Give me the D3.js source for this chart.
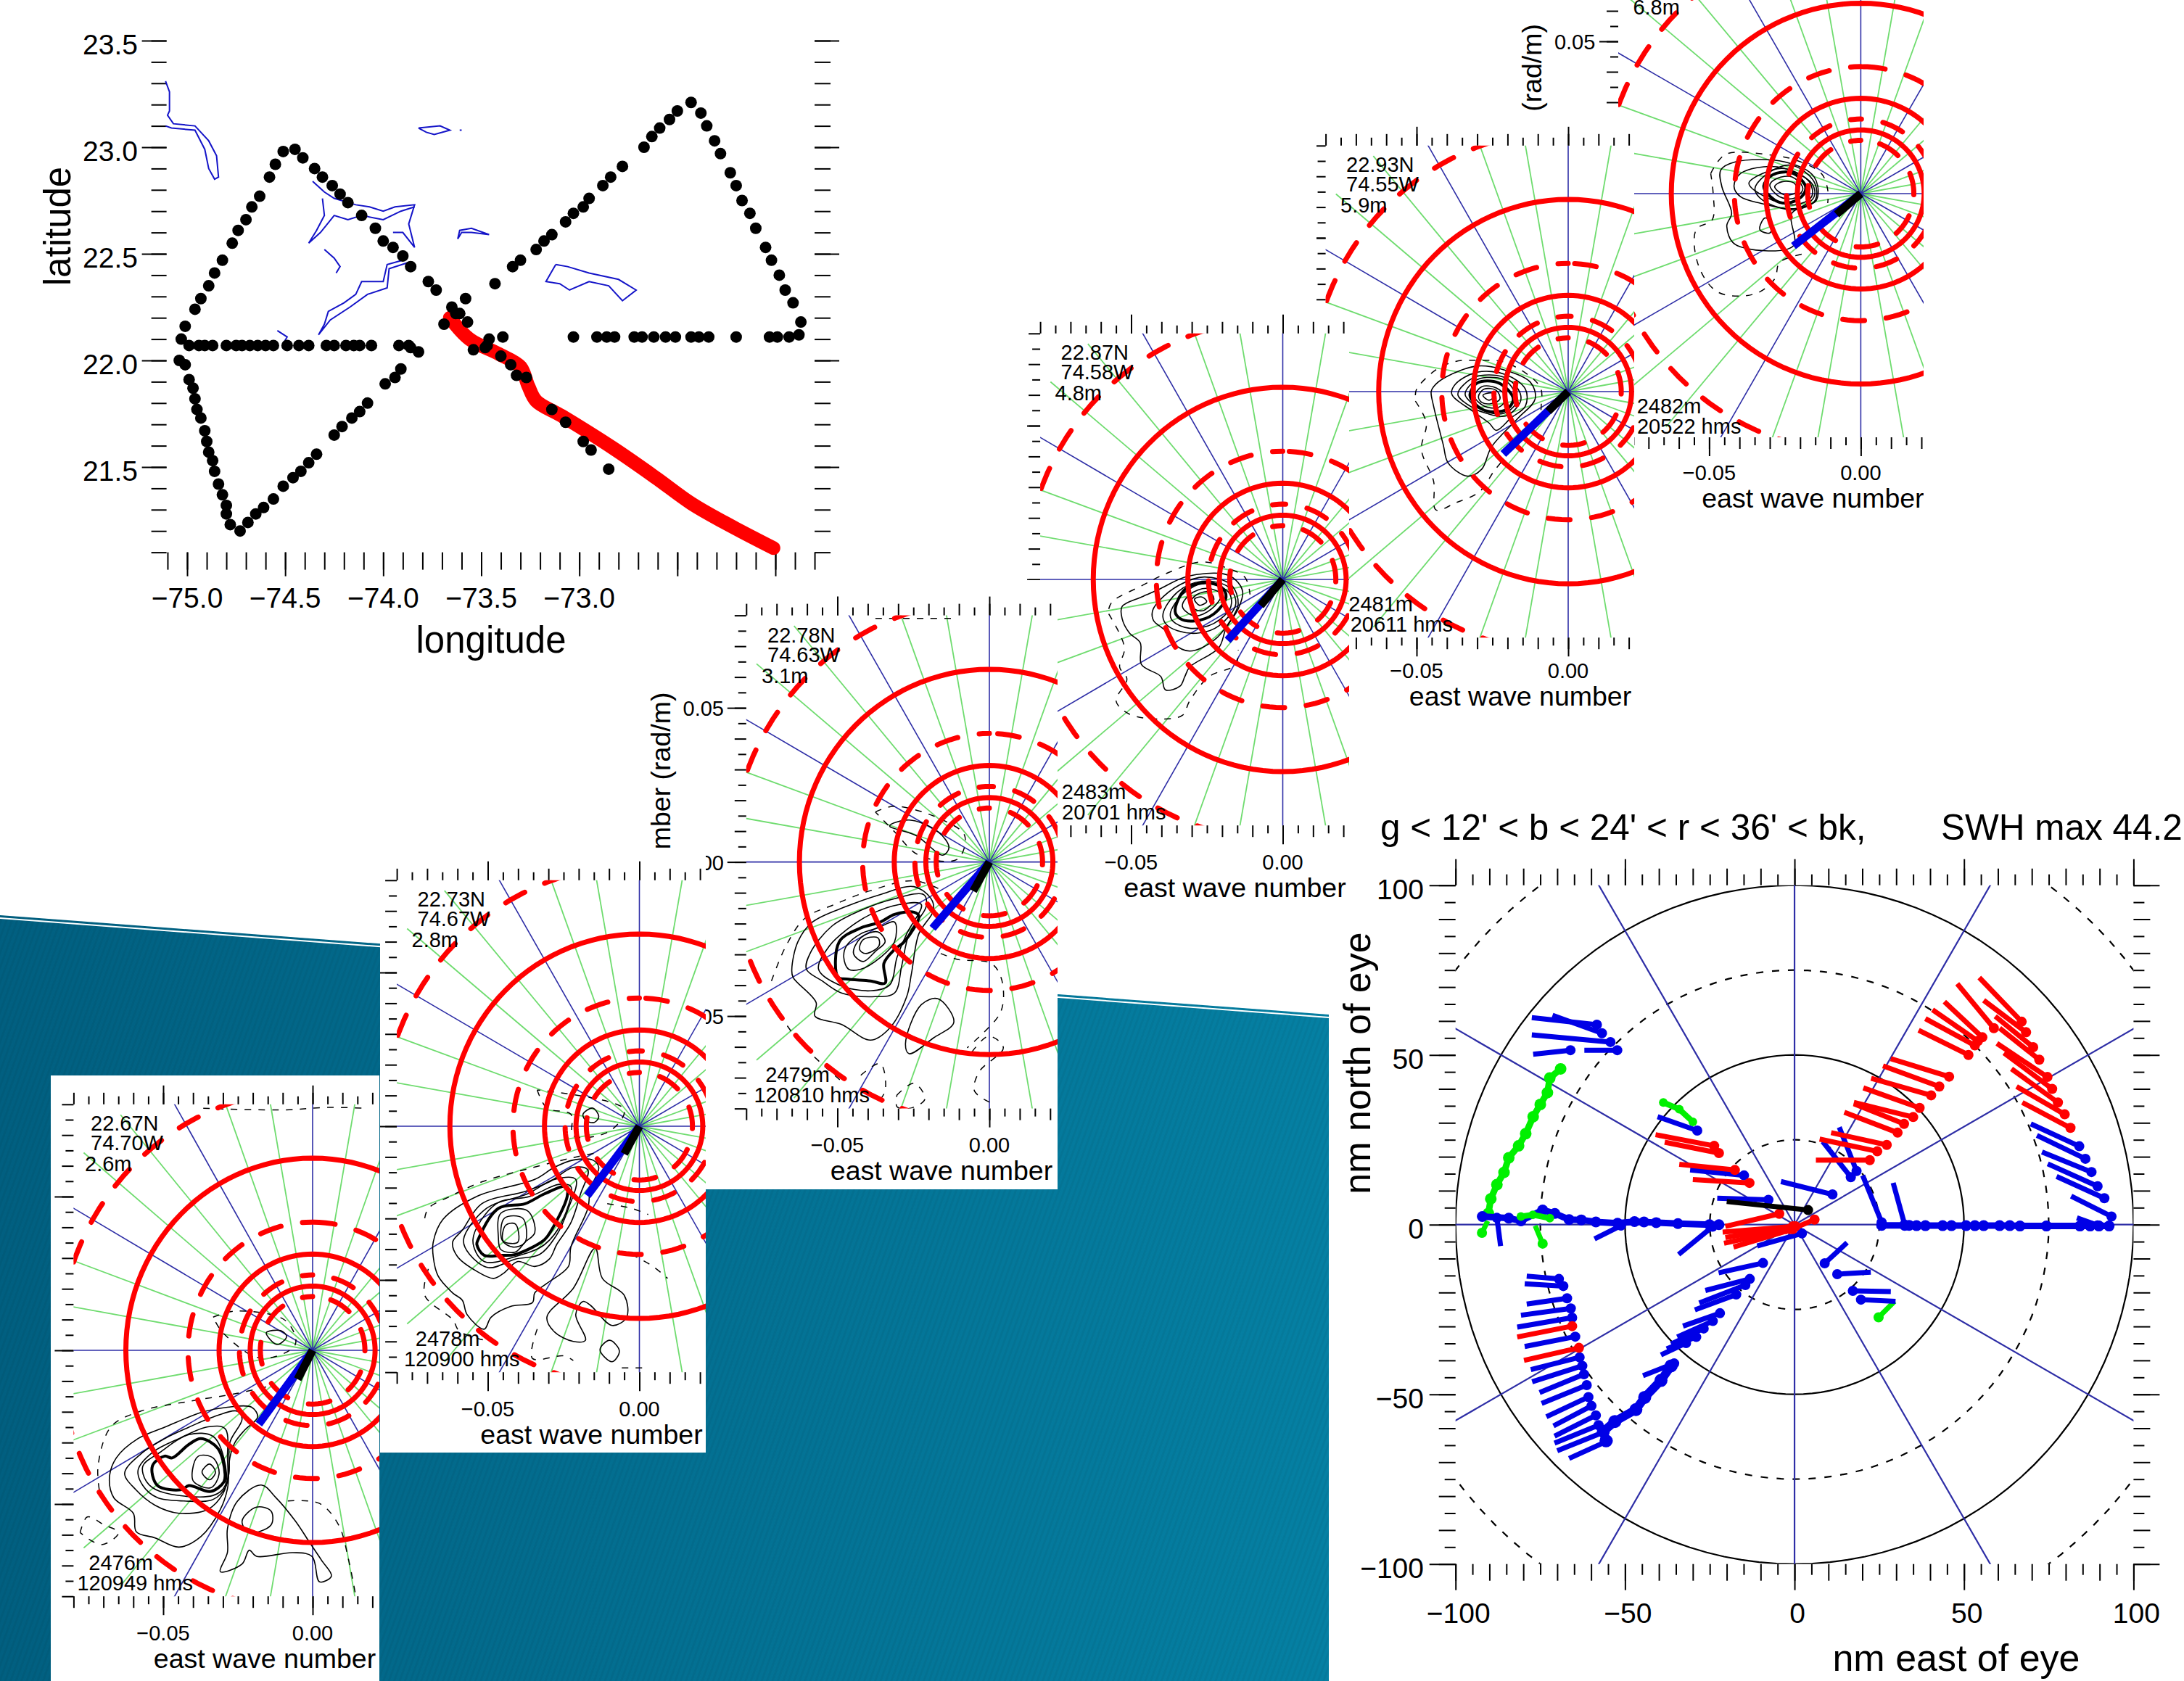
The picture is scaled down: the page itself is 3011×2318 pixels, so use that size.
<!DOCTYPE html>
<html>
<head>
<meta charset="utf-8">
<script src="https://d3js.org/d3.v7.min.js"></script>
<style>
  html, body { margin: 0; padding: 0; background: #fff; overflow: hidden; }
  text { font-family: "Liberation Sans", Arial, sans-serif; fill: #000; }
</style>
</head>
<body>
<div id="chart"></div>
<script>
// Flight track, degrees
const trackLon = [-75.01,-74.96,-74.93,-74.89,-74.86,-74.82,-74.77,-74.74,-74.70,-74.67,-74.63,-74.58,-74.55,-74.51,-74.45,-74.41,-74.35,-74.31,-74.26,-74.22,-74.18,-74.11,-74.04,-74.00,-73.95,-73.90,-73.86,-73.77,-73.73,-73.65,-73.63,-73.61,
  -74.99,-74.94,-74.91,-74.87,-74.80,-74.75,-74.72,-74.68,-74.64,-74.60,-74.56,-74.49,-74.43,-74.38,-74.29,-74.25,-74.19,-74.15,-74.12,-74.06,-73.92,-73.87,-73.86,-73.82,
  -75.03,-75.04,-75.01,-74.99,-74.97,-74.96,-74.95,-74.93,-74.91,-74.90,-74.89,-74.87,-74.86,-74.84,-74.82,-74.80,-74.80,-74.78,-74.73,-74.69,-74.65,-74.61,-74.56,-74.51,-74.46,-74.42,-74.38,-74.34,-74.25,-74.21,-74.16,-74.12,-74.08,-73.99,-73.94,-73.91,
  -73.43,-73.34,-73.30,-73.22,-73.18,-73.14,-73.07,-73.03,-72.98,-72.95,-72.88,-72.84,-72.78,-72.67,-72.63,-72.59,-72.54,-72.50,-72.43,-72.38,-72.35,-72.31,-72.28,-72.23,-72.20,-72.17,-72.13,-72.10,-72.05,-72.02,-71.98,-71.95,-71.91,-71.87,-71.88,
  -73.03,-72.91,-72.86,-72.82,-72.72,-72.68,-72.62,-72.56,-72.51,-72.43,-72.39,-72.34,-72.20,-72.03,-71.99,-71.93,
  -73.58,-73.69,-73.57,-73.54,-73.48,-73.46,-73.47,-73.39,-73.40,-73.35,-73.32,-73.27,-73.14,-73.07,-72.98,-72.94,-72.85];
const trackLat = [22.16,22.24,22.29,22.35,22.41,22.47,22.55,22.61,22.66,22.72,22.77,22.86,22.92,22.98,22.99,22.95,22.90,22.86,22.82,22.78,22.74,22.68,22.62,22.56,22.53,22.49,22.44,22.37,22.33,22.25,22.22,22.22,
  22.07,22.07,22.07,22.07,22.07,22.07,22.07,22.07,22.07,22.07,22.07,22.07,22.07,22.07,22.07,22.07,22.07,22.07,22.07,22.07,22.07,22.07,22.06,22.04,
  22.10,22.00,21.98,21.91,21.87,21.82,21.77,21.73,21.67,21.62,21.57,21.53,21.48,21.42,21.37,21.32,21.28,21.23,21.20,21.24,21.28,21.31,21.35,21.41,21.45,21.48,21.52,21.56,21.65,21.69,21.73,21.76,21.80,21.89,21.92,21.96,
  22.36,22.44,22.47,22.52,22.56,22.59,22.65,22.69,22.72,22.76,22.82,22.86,22.91,23.00,23.05,23.09,23.13,23.17,23.21,23.16,23.10,23.03,22.97,22.88,22.82,22.75,22.69,22.62,22.53,22.47,22.40,22.33,22.27,22.18,22.12,
  22.11,22.11,22.11,22.11,22.11,22.11,22.11,22.11,22.11,22.11,22.11,22.11,22.11,22.11,22.11,22.11,
  22.29,22.17,22.18,22.05,22.06,22.10,22.07,22.11,22.02,21.98,21.93,21.92,21.77,21.71,21.62,21.58,21.49];

// Storm track
const stormLon = [-73.66,-73.56,-73.41,-73.30,-73.26,-73.22,-73.09,-72.83,-72.61,-72.43,-72.26,-72.01];
const stormLat = [22.20,22.10,22.03,21.97,21.88,21.81,21.74,21.59,21.45,21.33,21.24,21.12];

// Coastlines [lon, lat]
const coastlines = [
  [[-75.11,23.31],[-75.09,23.26],[-75.09,23.17],[-75.10,23.15],[-75.07,23.11],[-74.96,23.10],[-74.89,23.03],[-74.85,22.96],[-74.84,22.86],[-74.86,22.85],[-74.89,22.90],[-74.91,22.99],[-74.96,23.08],[-75.08,23.09],[-75.11,23.10]],
  [[-73.82,23.09],[-73.71,23.10],[-73.66,23.08],[-73.74,23.06],[-73.78,23.07],[-73.82,23.09]],
  [[-73.61,23.08],[-73.60,23.08]],
  [[-74.36,22.84],[-74.30,22.79],[-74.25,22.76],[-74.14,22.73],[-74.07,22.72],[-74.00,22.70],[-73.94,22.72],[-73.84,22.73],[-73.87,22.64],[-73.84,22.53],[-73.90,22.60],[-73.95,22.60]],
  [[-73.90,22.47],[-73.98,22.45],[-74.00,22.37],[-74.11,22.37],[-74.14,22.31],[-74.20,22.27],[-74.28,22.23],[-74.30,22.17],[-74.33,22.12],[-74.27,22.19],[-74.17,22.25],[-74.08,22.31],[-73.98,22.34],[-73.97,22.43],[-73.87,22.46]],
  [[-74.31,22.76],[-74.30,22.68],[-74.34,22.61],[-74.38,22.55],[-74.32,22.60],[-74.25,22.68],[-74.18,22.66],[-74.11,22.68],[-74.00,22.66],[-73.91,22.70],[-73.84,22.72]],
  [[-73.62,22.57],[-73.61,22.61],[-73.55,22.62],[-73.46,22.59],[-73.55,22.60],[-73.60,22.60],[-73.62,22.57]],
  [[-73.12,22.45],[-73.06,22.44],[-72.95,22.41],[-72.80,22.38],[-72.71,22.33],[-72.78,22.28],[-72.85,22.35],[-72.95,22.37],[-73.05,22.33],[-73.10,22.36],[-73.17,22.37],[-73.12,22.45]],
  [[-74.30,22.52],[-74.25,22.48],[-74.22,22.44],[-74.24,22.41]],
  [[-74.54,22.14],[-74.49,22.11],[-74.51,22.08]]
];

// Spectrum panels, bottom left to top right (east / north wave number x 1000)
const panelLat = ["22.67N","22.73N","22.78N","22.87N","22.93N",null];
const panelLon = ["74.70W","74.67W","74.63W","74.58W","74.55W",null];
const panelSwh = ["2.6m","2.8m","3.1m","4.8m","5.9m","6.8m"];
const panelAlt = ["2476m","2478m","2479m","2483m","2481m","2482m"];
const panelTime = ["120949 hms","120900 hms","120810 hms","20701 hms","20611 hms","20522 hms"];
const windEast = [-18,-17.2,-18.7,-18.2,-21.4,-22.2];
const windNorth = [-24,-22.6,-21.5,-19.8,-20.3,-17.2];
const peakEast = [-5,-5,-5.3,-7.3,-6.6,-8];
const peakNorth = [-9.4,-9,-9.4,-8.5,-6.4,-6.8];
const solidRings = [62.5,31.3,20.9];
const dashedRings = [85,41.7,24.5,17.5];
const spokeAngles = d3.range(0,360,10);

const contoursThin = [
  [ // 22.67N
    [[-68,-65.7,-58.4,-49.5,-36.6,-28.5,-20.4,-18.4,-22.8,-26,-27.7,-28.5,-31,-37.4,-44.7,-52.7,-59,-60,-66.5],[-41.5,-35,-28.7,-25,-20,-18.5,-18.5,-21.7,-26,-30,-35,-45,-52,-60.6,-64,-61,-59,-53,-48]],
    [[-62.9,-57.6,-49.5,-41.4,-33.3,-25.2,-23.6,-27.7,-28,-30,-35,-44.7,-52.7,-59.2],[-40,-33.8,-28.7,-25,-21.7,-19.8,-22.3,-30,-40,-46.6,-51.7,-53,-50.4,-45.3]],
    [[-58.4,-53.6,-44.7,-35,-29.3,-28.5,-28.9,-33.3,-43,-52,-56.8],[-38.9,-33.2,-28.7,-24.9,-25.5,-35,-44,-48.5,-49,-47.9,-44]],
    [[-56.8,-51.1,-41.4,-33.3,-29.7,-29.3,-33.3,-51.1,-55.6],[-37.6,-33.2,-27.4,-28,-35,-44,-47.2,-45.9,-42.7]],
    [[-40.2,-38.2,-33.3,-31.3,-34.1,-39.8],[-38.9,-34.4,-35,-40.2,-44.7,-42.7]],
    [[-37,-34.5,-32.5,-34.5],[-39.6,-37,-39.6,-42.1]],
    [[-28.5,-25.2,-17.2,-12.3,-5.8,-1,3,6.3,2.3,-0.2,-6.6,-18.8,-21.2,-23.6,-30.9,-28.5],[-58,-49.1,-43.8,-47.9,-55.5,-62.5,-68.3,-73.4,-75.3,-67,-65.8,-67,-65,-69.5,-72,-65.7]],
    [[-23.6,-18.8,-13.9,-13.9,-21.2],[-55.5,-51,-52.3,-56.8,-59.3]],
    [[-15.5,-10.7,-8.7,-11.9],[5.7,6.4,4.5,1.9]]
  ],
  [ // 22.73N
    [[-68,-64.8,-53.6,-34.5,-28.1,-21.8,-15.4,-13.4,-16.2,-17,-22.6,-23.4,-30.5,-34.5,-35.3,-42.5,-48.9,-51.2,-56.8,-58.4,-61.6,-66.4,-68],[-37.7,-30.3,-22.8,-17.3,-13.4,-11,-11,-13.4,-20.4,-26.7,-39.3,-45.6,-51.1,-54.2,-57.4,-58.6,-62.1,-66,-61.3,-56.6,-54.2,-48.7,-42.4]],
    [[-61.6,-58.4,-52,-37.7,-29.7,-21.8,-17,-19.4,-22.6,-27.3,-29.7,-34.5,-40.1,-44.9,-48.1,-53.6,-60],[-37.7,-33.8,-25.2,-21.2,-18.1,-13.4,-14.2,-22,-31.4,-38.5,-43.2,-45.6,-44,-47.9,-49.5,-47.2,-42.4]],
    [[-58,-50.4,-36.9,-28.1,-21,-23.4,-27.3,-32.9,-40.9,-49.7,-56],[-36.9,-26.7,-22,-17.3,-17.3,-26.7,-35.4,-41.7,-43.2,-46,-41.7]],
    [[-54.9,-47.2,-36.1,-26.5,-22.6,-25.7,-31.3,-40.9,-51.2],[-36.9,-25.2,-22.8,-18.9,-19.6,-31.4,-38.5,-42.4,-44]],
    [[-46.5,-45.7,-36.9,-34.5,-37.7,-40.9,-45.7],[-36.2,-28.3,-27.5,-34.6,-37.7,-40.9,-40.1]],
    [[-45.3,-44.5,-38.5,-37.7,-41.7],[-37,-29.9,-29.9,-37.7,-39.3]],
    [[-44.1,-40.9,-40.1,-44.9],[-32.2,-31.8,-37.7,-37.3]],
    [[-30.5,-21.8,-14.6,-12.2,-5,-4.2,-9,-16.2,-18.6,-21,-17.8,-21.8,-28.1],[-62.1,-52.7,-39.7,-49.5,-55,-62.1,-64.8,-58.2,-57,-61.3,-69.6,-70,-66.8]],
    [[-13,-9.8,-6.6,-9],[-72.7,-69.6,-73.1,-76.6]],
    [[-18.6,-15.4,-13.4,-15,-17.8],[3.9,5.9,3.1,1.2,2]]
  ],
  [ // 22.78N
    [[-65,-63,-58.2,-47,-36,-24.8,-19.2,-18.4,-23.2,-25.6,-27.2,-32.8,-39.1,-48.7,-57.4,-57,-64.6],[-34.8,-25.9,-19.5,-14.4,-10.6,-8,-11.9,-15.7,-23.3,-36,-43.7,-53.9,-57.8,-52.7,-50,-45.6,-37.4]],
    [[-60.2,-59,-51.8,-42.3,-31.2,-21.6,-20.8,-26.4,-28.8,-31.2,-37.5,-48.7,-55],[-34.8,-29.7,-20.8,-15.7,-11.9,-10.6,-14.4,-23.3,-33.5,-42.5,-43.7,-42.5,-38.6]],
    [[-56.2,-52.6,-47,-39.1,-29.6,-22.4,-27.2,-30.4,-32.8,-39.1,-49.4],[-34.8,-27.2,-22,-17,-13.8,-13.8,-23.3,-31,-39.9,-41.8,-39.9]],
    [[-47.9,-47,-42.3,-36.7,-31.2,-31.2,-35.9,-42.3,-46.3],[-31,-27.2,-23.3,-21.4,-19.5,-25.9,-31,-34.8,-34.8]],
    [[-44.7,-42.3,-36.7,-34.3,-37.5,-41.5],[-29.7,-24.6,-22.7,-25.9,-29,-32.3]],
    [[-42.7,-41.5,-36.7,-36.3,-40.7],[-28.4,-25.2,-24.6,-27.2,-29.7]],
    [[-27.6,-22.4,-16.9,-11.7,-18.4,-26.4],[-59,-46.3,-44.4,-52,-57.1,-62.2]],
    [[-32.8,-26.4,-16.9,-13.3,-15.3,-24],[11.7,13.6,9.8,4.7,2.2,8.5]]
  ],
  [ // 22.87N
    [[-53,-46.6,-41,-31.5,-19.5,-15.5,-13.2,-14.7,-18.7,-21.1,-30.7,-32.3,-33.9,-38.7,-40.2,-46.6,-47,-50.6,-53],[-8.8,-5.7,-3.3,1,1.8,-0.2,-4.1,-9.6,-15.9,-22.2,-28.5,-31.6,-34.7,-35.9,-31.6,-27.7,-20.6,-17.4,-12.7]],
    [[-43,-41,-33.9,-25.9,-17.1,-14.7,-17.9,-22.7,-30.7,-36.3,-38.7,-42.6],[-10.4,-7.2,-1.7,0.8,-1.7,-8,-14.3,-19.8,-23.3,-20.6,-16.7,-13.4]],
    [[-39.5,-34.7,-26.7,-17.9,-15.5,-21.1,-27.5,-34.7,-38.7],[-11.2,-4.1,-0.6,-2.5,-8,-15.1,-17.4,-16.7,-14.3]],
    [[-37.1,-33.1,-25.9,-17.9,-17.1,-22.7,-30.7,-36.3],[-11.2,-4.9,-1.3,-4.1,-8.8,-14.3,-15.9,-13.5]],
    [[-33.1,-30.7,-25.1,-20.3,-23.5,-29.1],[-8.8,-4.9,-2.9,-4.9,-9.6,-11.9]],
    [[-30.7,-28.3,-24.3,-22.7,-25.9,-28.3],[-8,-4.9,-4.1,-6.4,-10,-10]],
    [[-29.1,-26.7,-25.1,-27.5],[-6.4,-5.7,-7.2,-8.4]]
  ],
  [ // 22.93N
    [[-45.2,-44.4,-40.4,-30,-21.2,-12.5,-10.9,-16.5,-25.3,-28.5,-33.2,-39.6,-41.2,-44.4],[0,1.6,4.7,8.3,7.1,3.1,-2.4,-8.6,-18,-25.2,-27.5,-23.2,-17.3,-4.7]],
    [[-38.4,-37.2,-30,-20.5,-14.1,-14.1,-18.9,-23.7,-26.1,-31.6],[-0.8,2.4,6.3,5.5,0.8,-4.7,-8.6,-12.6,-10.2,-6.3]],
    [[-36.4,-30.8,-21.3,-16.5,-15.7,-20.5,-26.9,-32.4],[-0.8,4.7,4.7,0.8,-3.1,-7.9,-7.1,-4.7]],
    [[-34,-30,-21.3,-17.3,-17.3,-21.3,-27.7,-31.6],[-0.8,3.9,3.9,-0.8,-3.9,-7.1,-6.3,-3.9]],
    [[-30.8,-28.5,-23.7,-20.5,-22.9,-27.7],[-1.6,1.6,1.2,-2,-5.1,-4.7]],
    [[-29.6,-27.7,-23.7,-22.5,-25.3,-28.5],[-1.6,0.8,0.4,-2.4,-3.9,-3.5]],
    [[-28.1,-25.3,-24.1,-26.1],[-1.2,-0.4,-1.2,-2.8]]
  ],
  [ // 6.8m
    [[-46.2,-41.4,-25.1,-15.4,-14.6,-22.7,-22.3,-41.4,-44.2,-42.6,-45.8],[7.7,10.4,10.4,5.5,-2.1,-6.4,-17.2,-16.7,-10.7,-6.4,2.2]],
    [[-41.8,-39.7,-27.6,-16.2,-15.4,-21.1,-33.3,-39.7],[2.3,6.6,8.8,3.4,-1,-4.8,-3.1,-1]],
    [[-36.9,-32.4,-25.1,-17,-16.2,-21.9,-31.6],[3.4,6.6,8.2,3.9,-1,-3.7,-1]],
    [[-34.9,-30,-22.7,-15.4,-15,-21.9,-32.4],[1.7,7.1,9.3,3.9,-2.1,-5.3,-2.1]],
    [[-30,-27.6,-22.7,-19.1,-21.9,-26.8],[2.8,5,5.5,1.7,-1.5,-1]],
    [[-28.4,-26,-21.9,-21.1,-25.1],[2.3,3.9,3.4,0.6,-0.4]],
    [[-33.3,-31.6,-29.2,-30],[-11.8,-8,-9.6,-12.9]]
  ]
];
const contoursThick = [
  [[-53.6,-49.5,-47,-41.4,-37.4,-31.7,-29.3,-29.7,-34.1,-41.4,-43.8,-51.9],[-37.6,-34.4,-35,-30.6,-28.7,-31.9,-40.2,-42.8,-45.9,-44,-45.3,-44]],
  [[-53.2,-46.5,-37.7,-31.3,-24.1,-23.8,-29,-31.3,-40.9,-45.7,-51.2,-53.6],[-36.9,-26.7,-25.2,-22,-19.6,-22.8,-33.8,-36.9,-41.7,-42,-42,-38.5]],
  [[-49.8,-49.4,-42.3,-35.9,-31.2,-24.8,-23.2,-28,-31.2,-34.7,-34.3,-39.1,-47],[-37.4,-25.9,-21.4,-19.5,-17,-16.3,-17.6,-25.9,-28.4,-32.9,-39.3,-38.6,-38]],
  [[-35.5,-32.3,-25.9,-20.3,-18.7,-22.7,-29.1,-33.9],[-10.4,-3.3,-1.1,-2.5,-5.7,-11.2,-13.5,-12.7]],
  [[-32.4,-30,-22.9,-18.1,-20.5,-26.9,-30.8],[-1.2,2.8,2.8,-2.4,-5.9,-6.3,-3.9]],
  [[-32,-29.2,-22.7,-18.2,-19.5,-24.3,-28.4],[2.3,6.1,6.8,2.3,-1,-3.1,-2.1]]
];
const contoursDashed = [
  [
    [[-71.4,-71.8,-67.5,-57.6,-41.4,-25.2,-13.9],[-45.3,-37.6,-24.9,-19.8,-16.6,-14,-11.5]],
    [[-8.3,2.3,8.7,12,14.4],[-49,-49.8,-56.8,-68,-79.7]],
    [[-33.3,-25.2,-9,-5.8,-17.2,-30,-33.3],[10.8,12.8,9.6,1.9,-2.6,5.7,10.8]],
    [[-36.6,-9,4.7,18.4],[78.7,78.2,79,78.7]],
    [[-77.8,-75.4,-69.7,-64.9,-70.6,-77.8],[-59.3,-54.2,-56.8,-59.3,-63.2,-59.3]]
  ],
  [
    [[-70.8,-69.6,-62.4,-52,-37.7,-21.8,-13.8],[-29.9,-26.7,-22.8,-18.1,-14.1,-10.2,-8.6]],
    [[-33.7,-30.5,-22.6,-21.8,-9.8,-5,-33.7],[11.8,5.9,3.9,-3.1,-1.6,5.5,11.8]],
    [[-69.6,-70.8,-61.6,-59.2,-45.7],[-46.4,-55,-62.9,-66.8,-70.7]],
    [[-10.6,-2.6,2.9],[-25.2,-26.7,-28.7]],
    [[-2.6,4.5,9.3],[-41.7,-45.6,-49.5]],
    [[-33.7,-35.3,-24.9,-21.8],[-66,-75.5,-74.7,-76.2]],
    [[-5.8,2.2],[-78.6,-78.6]]
  ],
  [
    [[-71.7,-66.9,-60.6,-51,-39.1,-24.8,-15.3],[-38.6,-27.2,-18.2,-13.8,-9.3,-6.1,-9.3]],
    [[-71.3,-63,-47.9],[-45.6,-57.8,-71.8]],
    [[-16,-10.5,0.6,3.8,4.6,3,-7.3],[-29.7,-31.6,-32.9,-37.4,-45,-50,-60.3]],
    [[-37.5,-31.2,-15.3,-8.1,-10.5,-23.2,-31.2,-37.5],[16.2,18.1,13.6,8.5,0.9,2.2,9.8,16.2]],
    [[-30.4,-24.8,-21.2,-26.4,-30.4,-30.4],[-75.6,-71.8,-76.9,-80,-79.4,-75.6]],
    [[-5.7,-0.2,4.6,-3.3,-4.9,0.6],[-61.6,-56.5,-60.3,-68,-74.3,-78.2]],
    [[-42.3,-35.9,-34.3,-37.5],[-69.2,-65.4,-74.3,-78.8]],
    [[-37.5,-20,-11],[79,79,79]]
  ],
  [
    [[-57.4,-56.2,-46.6,-38.7,-26.7,-18.7,-12.4,-10.8],[-9.6,-7.2,-2.1,1.8,5.7,3.8,0.6,-4.9]],
    [[-57.4,-52.2,-53.8,-51.4,-55,-50.6,-40.2,-33.1,-30.7,-24.3,-15.5,-14.7],[-11.2,-22.2,-28.5,-32.4,-39.5,-43.8,-45.4,-44.2,-39.5,-31.6,-27.7,-22.9]]
  ],
  [
    [[-50.4,-50,-43.6,-37.2,-30,-20.5,-9.3,-8.9,-9.3],[-1.2,0.8,7.1,9.8,10.2,9.4,1.6,-4.7,-8.6]],
    [[-50.4,-46.8,-48.4,-44.4,-43.6,-37.2,-29.3,-24.5,-21.3],[-3.1,-10.2,-18.9,-29.1,-38.5,-36.2,-32.6,-25.9,-22]]
  ],
  [
    [[-49.5,-44.6,-29.2,-21.1,-13,-10.9,-10.9],[6.6,12.9,12.6,10.9,6.6,1.2,-3.1]],
    [[-19.5,-26.8,-28.4,-34.9,-47,-53.5,-54.3,-49,-48.7,-49.5],[-19.9,-22.6,-28,-32.9,-32.4,-23.7,-11.8,-8.6,0.1,6.6]]
  ]
];

// Wave observations: [dot east, dot north, tail east, tail north] in nm
const redSegments = [
  [67,59.8,54.5,72.8],[58.8,57.9,48,71],[68.3,56.7,55.8,66.1],[70.4,52.3,59.2,61.4],[72.2,48.6,60.5,57.9],
  [55.4,55.2,44.2,65.7],[54.1,54.1,40.7,63.3],[53.2,52.8,38.6,60.7],[51.3,50,36.6,57.3],
  [74.6,43.5,59.7,53.4],[76,40,61.8,50.6],[77.7,36,64,45.9],[79.7,32.5,65.5,40.7],[81.4,28.5,67.2,36],
  [45.6,43.6,28.4,48.9],[42.7,40.7,26.1,46.8],[40.3,38.1,22.6,43.1],[36.9,34.4,20.3,40.3],[35,31.7,17.5,36],[32.3,29.7,17.5,35.6],[30.4,27.1,14.7,33.1],
  [27.2,23.5,10.8,27.1],[24.4,21.6,7.4,25.2],[22.2,19,6.3,19],
  [-4.5,3.2,-20.4,-0.5],[-0.5,-0.5,-20.4,-3.8],[-0.5,-1.3,-18,-6.6],[-1.3,-1.3,-20.8,-5.5],[0.3,-0.5,-21.2,-2.2],[5.9,1.5,-2.9,-2.2],
  [-22.3,21.1,-38.3,24.3],[-23.7,23.2,-41,26.5],[-17.6,16.1,-34,17.8],[-13.3,12.3,-30,13.3],
  [-65.6,-29.9,-81.8,-33.1],[-63.6,-36.3,-79.8,-40]
];
const blueSegments = [
  [84,23.1,69.7,29.7],[85.8,19.4,71.5,26.3],[87.6,15.5,73,21.4],[89.4,11.3,74.7,17.9],[91.4,7.8,77.3,14.2],[93.5,2.4,81.6,8.4],[89.4,-0.2,83.3,2],
  [16.6,14,8.3,24.5],[18.3,15.8,13.2,28.7],[25.7,0.7,20.1,14.5],[32.5,0,29.1,12.3],[11.2,8.9,-4,12.7],
  [8.9,-11.4,15.5,-5.3],[12.6,-14.6,22.5,-14],[17.2,-19.5,28.4,-19.7],[19.6,-22.1,29.8,-22.6],
  [-56.8,56.4,-71.4,61.7],[-58.3,58.9,-77.5,61],[-54.3,53.8,-77.5,55.9],[-52.3,51.4,-62,51.4],[-66.1,51.4,-77.1,50.2],[-28.7,27.7,-40.4,31.8],
  [-14.9,14.5,-30.8,16.1],[-7.7,7.3,-22.8,7.8],[-87.8,2,-86.7,-6.3],[-51.2,-0.3,-59,-4.2],[-24.2,-0.6,-34.2,-8.8],
  [-9.3,-11.3,-22.4,-14.2],[-13.2,-16,-26.3,-19.4],[-14.5,-17.8,-28.1,-23.1],[-17.2,-20.6,-29.4,-25.1],[-22,-26.1,-32.9,-29.9],[-24.1,-28.4,-34.6,-33.1],[-26.8,-30.6,-36.4,-35.2],[-29,-33.1,-37.7,-36.6],[-32,-34.9,-39.4,-38.4],[-35.5,-40.9,-44.7,-44.5],
  [-68.2,-18.1,-79.6,-17.4],[-69.5,-16,-79,-15.2],[-67.1,-21.7,-79,-23.4],[-66,-24.7,-80.7,-26.7],[-65.6,-27.4,-81.8,-30.2],[-64.7,-33,-79.6,-35.9],[-63.4,-39.1,-77.8,-42.7],[-62.6,-41.6,-77.4,-46.3],[-62.1,-44.1,-75.2,-49.5],[-61.3,-47.3,-74.6,-52.7],[-60.8,-50.8,-73.2,-56.6],[-59.9,-53.4,-71.1,-59.3],[-58.6,-56.2,-70.8,-62.3],[-57.8,-59.1,-70.8,-64.4],[-56.4,-61.2,-70,-66.6],[-55.1,-63.7,-66.5,-68.9],
  [2.2,-2.6,-11,-6.3]
];
const greenSegments = [[24.8,-27.3,29.5,-22.6],[-74.3,-5.6,-76.5,-0.3],[-92.2,-2.4,-90.5,1.1]];
const blackSegments = [[4,4.3,-20,6.8]];

const blueEastX = [25.7,32.5,33.8,36,38.6,43.7,46.3,50.6,53.2,55.8,60.5,63.5,66.5,74.3,84.2,87.2,89.8,92.8];
const blueEastY = [-0.2,-0.2,-0.2,-0.3,-0.3,-0.3,-0.3,-0.3,-0.3,-0.3,-0.3,-0.3,-0.4,-0.4,-0.4,-0.4,-0.4,-0.4];
const blueWestX = [-92.1,-84.3,-80.7,-74.3,-70.7,-66.5,-62.9,-58.6,-52.2,-47.2,-44.4,-40.8,-34.4,-25.1,-22.3];
const blueWestY = [2.4,1.9,1.1,4.3,3.3,1.5,1.4,0.8,0.4,0.9,0.8,0.6,0.3,0,0];
const blueBendX = [-36.4,-39.4,-44.2,-46.8,-53,-56.4,-55.6];
const blueBendY = [-41.6,-45.9,-50.9,-54.5,-58,-60.9,-63.7];
const greenArcX = [-69,-72.2,-72.9,-75,-77.1,-79.3,-81.4,-84.3,-85.7,-87.8,-89.6,-90.3];
const greenArcY = [45.9,43.2,38.9,35.4,31.8,26.8,23.2,19.7,15.4,11.8,7.6,3.3];
const greenNearX = [-80.7,-77.2,-72.2];
const greenNearY = [2.4,2.9,1.9];
const greenNorthX = [-38.7,-34,-30];
const greenNorthY = [36,34,30.3];

const eyeSolidRings = [50,100];
const eyeDashedRings = [25,75,125];
const eyeSpokes = d3.range(0,360,30);

const zip = (a, b) => a.map((v, i) => [v, b[i]]);

const svg = d3.select("#chart").append("svg")
    .attr("width", 3011)
    .attr("height", 2318);
const defs = svg.append("defs");

// Slide background
const tealGrad = defs.append("linearGradient").attr("id", "tealGrad");
tealGrad.append("stop").attr("offset", "0%").attr("stop-color", "#015f80");
tealGrad.append("stop").attr("offset", "100%").attr("stop-color", "#0580a3");
const stripes = defs.append("pattern").attr("id", "stripes")
    .attr("width", 7).attr("height", 7)
    .attr("patternUnits", "userSpaceOnUse")
    .attr("patternTransform", "rotate(20)");
stripes.append("rect").attr("width", 3).attr("height", 7).attr("fill", "#000").attr("opacity", 0.045);

const teal = svg.append("g");
teal.append("path").attr("d", "M0,1262L1832,1399L1832,2318L0,2318Z").attr("fill", "url(#tealGrad)");
teal.append("path").attr("d", "M0,1262L1832,1399L1832,2318L0,2318Z").attr("fill", "url(#stripes)");
teal.append("path").attr("d", "M0,1266L1832,1403").attr("stroke", "#fff").attr("stroke-width", 2).attr("fill", "none");

function styleAxis(g) {
    g.select(".domain").remove();
    g.selectAll("line").attr("stroke", "#000").attr("stroke-width", 2);
}

// ---------- Flight track map ----------
const mapX = d3.scaleLinear().domain([-75, -72]).range([258, 1069]);
const mapY = d3.scaleLinear().domain([21.5, 23.5]).range([644, 56]);
const mapG = svg.append("g");
const lonMinor = d3.range(-751, -717).map(d => d / 10);
const latMinor = d3.range(211, 236).map(d => d / 10);
const lonMajor = [-75, -74.5, -74, -73.5, -73, -72.5, -72];
const latMajor = [21.5, 22, 22.5, 23, 23.5];
const mapLeft = mapX(-75.105), mapRight = mapX(-71.8), mapBottom = mapY(21.1);

mapG.append("g").attr("transform", `translate(0,${mapBottom})`)
    .call(d3.axisBottom(mapX).tickValues(lonMinor).tickSize(24).tickFormat("")).call(styleAxis);
mapG.append("g").attr("transform", `translate(0,${mapBottom})`)
    .call(d3.axisBottom(mapX).tickValues(lonMajor.slice(0, 7)).tickSize(33).tickFormat("")).call(styleAxis);
mapG.append("g").attr("transform", `translate(${mapLeft},0)`)
    .call(d3.axisLeft(mapY).tickValues(latMinor).tickSize(21).tickFormat("")).call(styleAxis);
mapG.append("g").attr("transform", `translate(${mapLeft},0)`)
    .call(d3.axisLeft(mapY).tickValues(latMajor).tickSize(34).tickFormat("")).call(styleAxis);
mapG.append("g").attr("transform", `translate(${mapRight},0)`)
    .call(d3.axisRight(mapY).tickValues(latMinor).tickSize(22).tickFormat("")).call(styleAxis);
mapG.append("g").attr("transform", `translate(${mapRight},0)`)
    .call(d3.axisRight(mapY).tickValues(latMajor).tickSize(34).tickFormat("")).call(styleAxis);

mapG.selectAll(".lon-label").data(lonMajor.slice(0, 5)).join("text")
    .attr("x", d => mapX(d)).attr("y", 838)
    .attr("text-anchor", "middle").attr("font-size", 39)
    .text(d => d3.format(".1f")(d));
mapG.selectAll(".lat-label").data(latMajor).join("text")
    .attr("x", 190).attr("y", d => mapY(d) + 19)
    .attr("text-anchor", "end").attr("font-size", 39)
    .text(d => d.toFixed(1));
mapG.append("text").attr("x", 677).attr("y", 900)
    .attr("text-anchor", "middle").attr("font-size", 51).text("longitude");
mapG.append("text").attr("transform", "translate(97,312) rotate(-90)")
    .attr("text-anchor", "middle").attr("font-size", 51).text("latitude");

const mapLine = d3.line().x(d => mapX(d[0])).y(d => mapY(d[1]));
mapG.selectAll(".coast").data(coastlines).join("path")
    .attr("d", mapLine).attr("fill", "none")
    .attr("stroke", "#1414c8").attr("stroke-width", 2);
mapG.append("path").datum(zip(stormLon, stormLat))
    .attr("d", mapLine.curve(d3.curveCatmullRom))
    .attr("fill", "none").attr("stroke", "#f00").attr("stroke-width", 19)
    .attr("stroke-linecap", "round");
mapG.selectAll(".fix").data(zip(trackLon, trackLat)).join("circle")
    .attr("cx", d => mapX(d[0])).attr("cy", d => mapY(d[1]))
    .attr("r", 8).attr("fill", "#000");

// ---------- Spectrum panels (top right one first, each covers the previous) ----------
const panelLayout = [
  {cx: 431, cy: 1862, sx: 4.12, sy: 4.24, rect: [70, 1483, 523, 2318], labelDy: 0, noteDx: 0},
  {cx: 881.5, cy: 1553, sx: 4.18, sy: 4.24, rect: [524, 1172, 973, 2003], labelDy: 0, noteDx: 0},
  {cx: 1364, cy: 1188.6, sx: 4.19, sy: 4.25, rect: [880, 800, 1458, 1640], labelDy: 0, noteDx: 0},
  {cx: 1768.5, cy: 799, sx: 4.18, sy: 4.24, rect: [1416, 432, 1860, 1245], labelDy: 0, noteDx: 4},
  {cx: 2162, cy: 540, sx: 4.18, sy: 4.24, rect: [1815, 160, 2253, 990], labelDy: -5, noteDx: 6},
  {cx: 2565.4, cy: 267, sx: 4.18, sy: 4.2, rect: [2090, -100, 2652, 710], labelDy: -5, noteDx: 0}
];
const kMajor = [-50, 0, 50];
const kMedium = d3.range(-80, 81, 10);
const kMinor = d3.range(-75, 80, 10);
const kFormat = d => d3.format(".2f")(d / 1000);
const panelsWithYLabel = [2, 5];

function drawPanel(i) {
    const p = panelLayout[i];
    const x = d3.scaleLinear().domain([-80, 80]).range([p.cx - 80 * p.sx, p.cx + 80 * p.sx]);
    const y = d3.scaleLinear().domain([-80, 80]).range([p.cy + 80 * p.sy, p.cy - 80 * p.sy]);
    const [x0, y0, x1, y1] = p.rect;

    defs.append("clipPath").attr("id", "panel" + i).append("rect")
        .attr("x", x0).attr("y", y0).attr("width", x1 - x0).attr("height", y1 - y0);
    defs.append("clipPath").attr("id", "box" + i).append("rect")
        .attr("x", x(-80)).attr("y", y(80)).attr("width", x(80) - x(-80)).attr("height", y(-80) - y(80));

    const g = svg.append("g").attr("clip-path", `url(#panel${i})`);
    g.append("rect").attr("x", x0).attr("y", y0).attr("width", x1 - x0).attr("height", y1 - y0).attr("fill", "#fff");

    // ticks
    [[kMinor, 11], [kMedium, 16], [kMajor, 26]].forEach(([vals, len]) => {
        g.append("g").attr("transform", `translate(0,${y(-80)})`)
            .call(d3.axisBottom(x).tickValues(vals).tickSize(len).tickFormat("")).call(styleAxis);
        g.append("g").attr("transform", `translate(0,${y(80)})`)
            .call(d3.axisTop(x).tickValues(vals).tickSize(len).tickFormat("")).call(styleAxis);
        g.append("g").attr("transform", `translate(${x(-80)},0)`)
            .call(d3.axisLeft(y).tickValues(vals).tickSize(len).tickFormat("")).call(styleAxis);
    });
    g.selectAll(".kx").data([-50, 0]).join("text")
        .attr("x", d => x(d)).attr("y", p.cy + 400 + p.labelDy)
        .attr("text-anchor", "middle").attr("font-size", 29).text(kFormat);
    g.append("text").attr("x", p.cx - 66).attr("y", p.cy + 438 + p.labelDy)
        .attr("text-anchor", "middle").attr("font-size", 37.5).text("east wave number");
    if (panelsWithYLabel.includes(i)) {
        g.selectAll(".ky").data(kMajor).join("text")
            .attr("x", p.cx - 366).attr("y", d => y(d) + 11)
            .attr("text-anchor", "end").attr("font-size", 29).text(kFormat);
        g.append("text").attr("transform", `translate(${p.cx - 440},${p.cy - 234}) rotate(-90)`)
            .attr("text-anchor", "end").attr("font-size", 37.5).text("north wave number (rad/m)");
    }

    const inner = g.append("g").attr("clip-path", `url(#box${i})`);

    // polar grid
    const spoke = a => `M${x(0)},${y(0)}L${x(100 * Math.sin(a * Math.PI / 180))},${y(100 * Math.cos(a * Math.PI / 180))}`;
    inner.selectAll(".green").data(spokeAngles.filter(a => a % 30 != 0)).join("path")
        .attr("d", spoke).attr("stroke", "#6fdc6f").attr("stroke-width", 1.8).attr("fill", "none");
    inner.selectAll(".blue").data(spokeAngles.filter(a => a % 30 == 0)).join("path")
        .attr("d", spoke).attr("stroke", "#2e2ea6").attr("stroke-width", 1.6).attr("fill", "none");

    // spectrum contours
    const closed = d3.line().x(d => x(d[0])).y(d => y(d[1])).curve(d3.curveCatmullRomClosed);
    const open = d3.line().x(d => x(d[0])).y(d => y(d[1])).curve(d3.curveCatmullRom);
    inner.selectAll(".thin").data(contoursThin[i]).join("path")
        .attr("d", d => closed(zip(d[0], d[1]))).attr("fill", "none")
        .attr("stroke", "#000").attr("stroke-width", 1.6);
    inner.selectAll(".dash").data(contoursDashed[i]).join("path")
        .attr("d", d => open(zip(d[0], d[1]))).attr("fill", "none")
        .attr("stroke", "#000").attr("stroke-width", 1.5).attr("stroke-dasharray", "9 10");
    inner.append("path").attr("d", closed(zip(contoursThick[i][0], contoursThick[i][1])))
        .attr("fill", "none").attr("stroke", "#000").attr("stroke-width", 4);

    // wavelength rings start at north and run anticlockwise
    const ring = d3.line().x(d => x(d[0])).y(d => y(d[1]));
    const ringPoints = r => d3.range(90, 451, 3).map(a => [r * Math.cos(a * Math.PI / 180), r * Math.sin(a * Math.PI / 180)]);
    inner.selectAll(".rs").data(solidRings).join("path")
        .attr("d", r => ring(ringPoints(r))).attr("fill", "none")
        .attr("stroke", "#f00").attr("stroke-width", 7);
    inner.selectAll(".rd").data(dashedRings).join("path")
        .attr("d", r => ring(ringPoints(r))).attr("fill", "none")
        .attr("stroke", "#f00").attr("stroke-width", 7)
        .attr("stroke-linecap", "round").attr("stroke-dasharray", "30 30").attr("stroke-dashoffset", 16);

    // wind and dominant wave
    inner.append("line").attr("x1", x(0)).attr("y1", y(0)).attr("x2", x(windEast[i])).attr("y2", y(windNorth[i]))
        .attr("stroke", "#0000e6").attr("stroke-width", 11);
    inner.append("line").attr("x1", x(0)).attr("y1", y(0)).attr("x2", x(peakEast[i])).attr("y2", y(peakNorth[i]))
        .attr("stroke", "#000").attr("stroke-width", 11);

    // annotations
    const note = (t, dx, dy, anchor) => g.append("text").attr("x", p.cx + dx).attr("y", p.cy + dy)
        .attr("text-anchor", anchor).attr("font-size", 29).text(t);
    if (panelLat[i]) note(panelLat[i], -306, -303, "start");
    if (panelLon[i]) note(panelLon[i], -306, -276, "start");
    note(panelSwh[i], -314, -247, "start");
    note(panelAlt[i], -220 + p.noteDx, 303, "end");
    note(panelTime[i], -165 + p.noteDx, 331, "end");
}
d3.range(5, -1, -1).forEach(drawPanel);

// ---------- Eye relative chart ----------
const eyeX = d3.scaleLinear().domain([-100, 100]).range([2006.7, 2941.4]);
const eyeY = d3.scaleLinear().domain([-100, 100]).range([2156.7, 1220.7]);
const eye = svg.append("g");
defs.append("clipPath").attr("id", "eyeBox").append("rect")
    .attr("x", eyeX(-100)).attr("y", eyeY(100))
    .attr("width", eyeX(100) - eyeX(-100)).attr("height", eyeY(-100) - eyeY(100));

const eyeMinor = d3.range(-95, 100, 10);
const eyeMedium = d3.range(-100, 101, 10);
const eyeMajor = [-100, -50, 0, 50, 100];
[[eyeMinor, 15], [eyeMedium, 23], [eyeMajor, 36]].forEach(([vals, len]) => {
    eye.append("g").attr("transform", `translate(0,${eyeY(-100)})`)
        .call(d3.axisBottom(eyeX).tickValues(vals).tickSize(len).tickFormat("")).call(styleAxis);
    eye.append("g").attr("transform", `translate(0,${eyeY(100)})`)
        .call(d3.axisTop(eyeX).tickValues(vals).tickSize(len).tickFormat("")).call(styleAxis);
    eye.append("g").attr("transform", `translate(${eyeX(-100)},0)`)
        .call(d3.axisLeft(eyeY).tickValues(vals).tickSize(len).tickFormat("")).call(styleAxis);
    eye.append("g").attr("transform", `translate(${eyeX(100)},0)`)
        .call(d3.axisRight(eyeY).tickValues(vals).tickSize(len).tickFormat("")).call(styleAxis);
});
eye.selectAll(".ex").data(eyeMajor).join("text")
    .attr("x", d => eyeX(d) + 4).attr("y", 2238)
    .attr("text-anchor", "middle").attr("font-size", 39)
    .text(d => d3.format("d")(d));
eye.selectAll(".ey").data(eyeMajor).join("text")
    .attr("x", 1963).attr("y", d => eyeY(d) + 19)
    .attr("text-anchor", "end").attr("font-size", 39)
    .text(d => d3.format("d")(d));
eye.append("text").attr("x", 2697).attr("y", 2304)
    .attr("text-anchor", "middle").attr("font-size", 52).text("nm east of eye");
eye.append("text").attr("transform", "translate(1889,1466) rotate(-90)")
    .attr("text-anchor", "middle").attr("font-size", 52).text("nm north of eye");
eye.append("text").attr("x", 1903).attr("y", 1158).attr("font-size", 49.5)
    .text("g < 12' < b < 24' < r < 36' < bk,");
eye.append("text").attr("x", 2676).attr("y", 1158).attr("font-size", 49.5)
    .text("SWH max 44.2");

const eyeInner = eye.append("g").attr("clip-path", "url(#eyeBox)");
const eyeRing = r => d3.range(0, 361, 3).map(a => [r * Math.cos(a * Math.PI / 180), r * Math.sin(a * Math.PI / 180)]);
const eyeLine = d3.line().x(d => eyeX(d[0])).y(d => eyeY(d[1]));
eyeInner.selectAll(".er").data(eyeSolidRings).join("path")
    .attr("d", r => eyeLine(eyeRing(r))).attr("fill", "none").attr("stroke", "#000").attr("stroke-width", 2.2);
eyeInner.selectAll(".ed").data(eyeDashedRings).join("path")
    .attr("d", r => eyeLine(eyeRing(r))).attr("fill", "none").attr("stroke", "#000")
    .attr("stroke-width", 2.2).attr("stroke-dasharray", "10 12");
eyeInner.selectAll(".es").data(eyeSpokes).join("path")
    .attr("d", a => eyeLine([[0, 0], [150 * Math.sin(a * Math.PI / 180), 150 * Math.cos(a * Math.PI / 180)]]))
    .attr("stroke", "#2e2ea6").attr("stroke-width", 2.2).attr("fill", "none");

function drawTrack(xs, ys, color, width, dot) {
    eye.append("path").datum(zip(xs, ys)).attr("d", eyeLine)
        .attr("fill", "none").attr("stroke", color).attr("stroke-width", width);
    eye.append("g").selectAll("circle").data(zip(xs, ys)).join("circle")
        .attr("cx", d => eyeX(d[0])).attr("cy", d => eyeY(d[1]))
        .attr("r", dot).attr("fill", color);
}
function drawSegments(rows, color) {
    const g = eye.append("g");
    g.selectAll("line").data(rows).join("line")
        .attr("x1", d => eyeX(d[0])).attr("y1", d => eyeY(d[1]))
        .attr("x2", d => eyeX(d[2])).attr("y2", d => eyeY(d[3]))
        .attr("stroke", color).attr("stroke-width", 7);
    g.selectAll("circle").data(rows).join("circle")
        .attr("cx", d => eyeX(d[0])).attr("cy", d => eyeY(d[1]))
        .attr("r", 7).attr("fill", color);
}
drawTrack(greenArcX, greenArcY, "#00f000", 9, 8);
drawSegments(greenSegments, "#00f000");
drawTrack(greenNorthX, greenNorthY, "#00f000", 8, 6);
drawTrack(blueEastX, blueEastY, "#0000e6", 9, 7.5);
drawTrack(blueWestX, blueWestY, "#0000e6", 9, 7.5);
drawTrack(greenNearX, greenNearY, "#00f000", 8, 6);
drawTrack(blueBendX, blueBendY, "#0000e6", 12, 9);
drawSegments(blueSegments, "#0000e6");
drawSegments(redSegments, "#f00");
drawSegments(blackSegments, "#000");
</script>
</body>
</html>
